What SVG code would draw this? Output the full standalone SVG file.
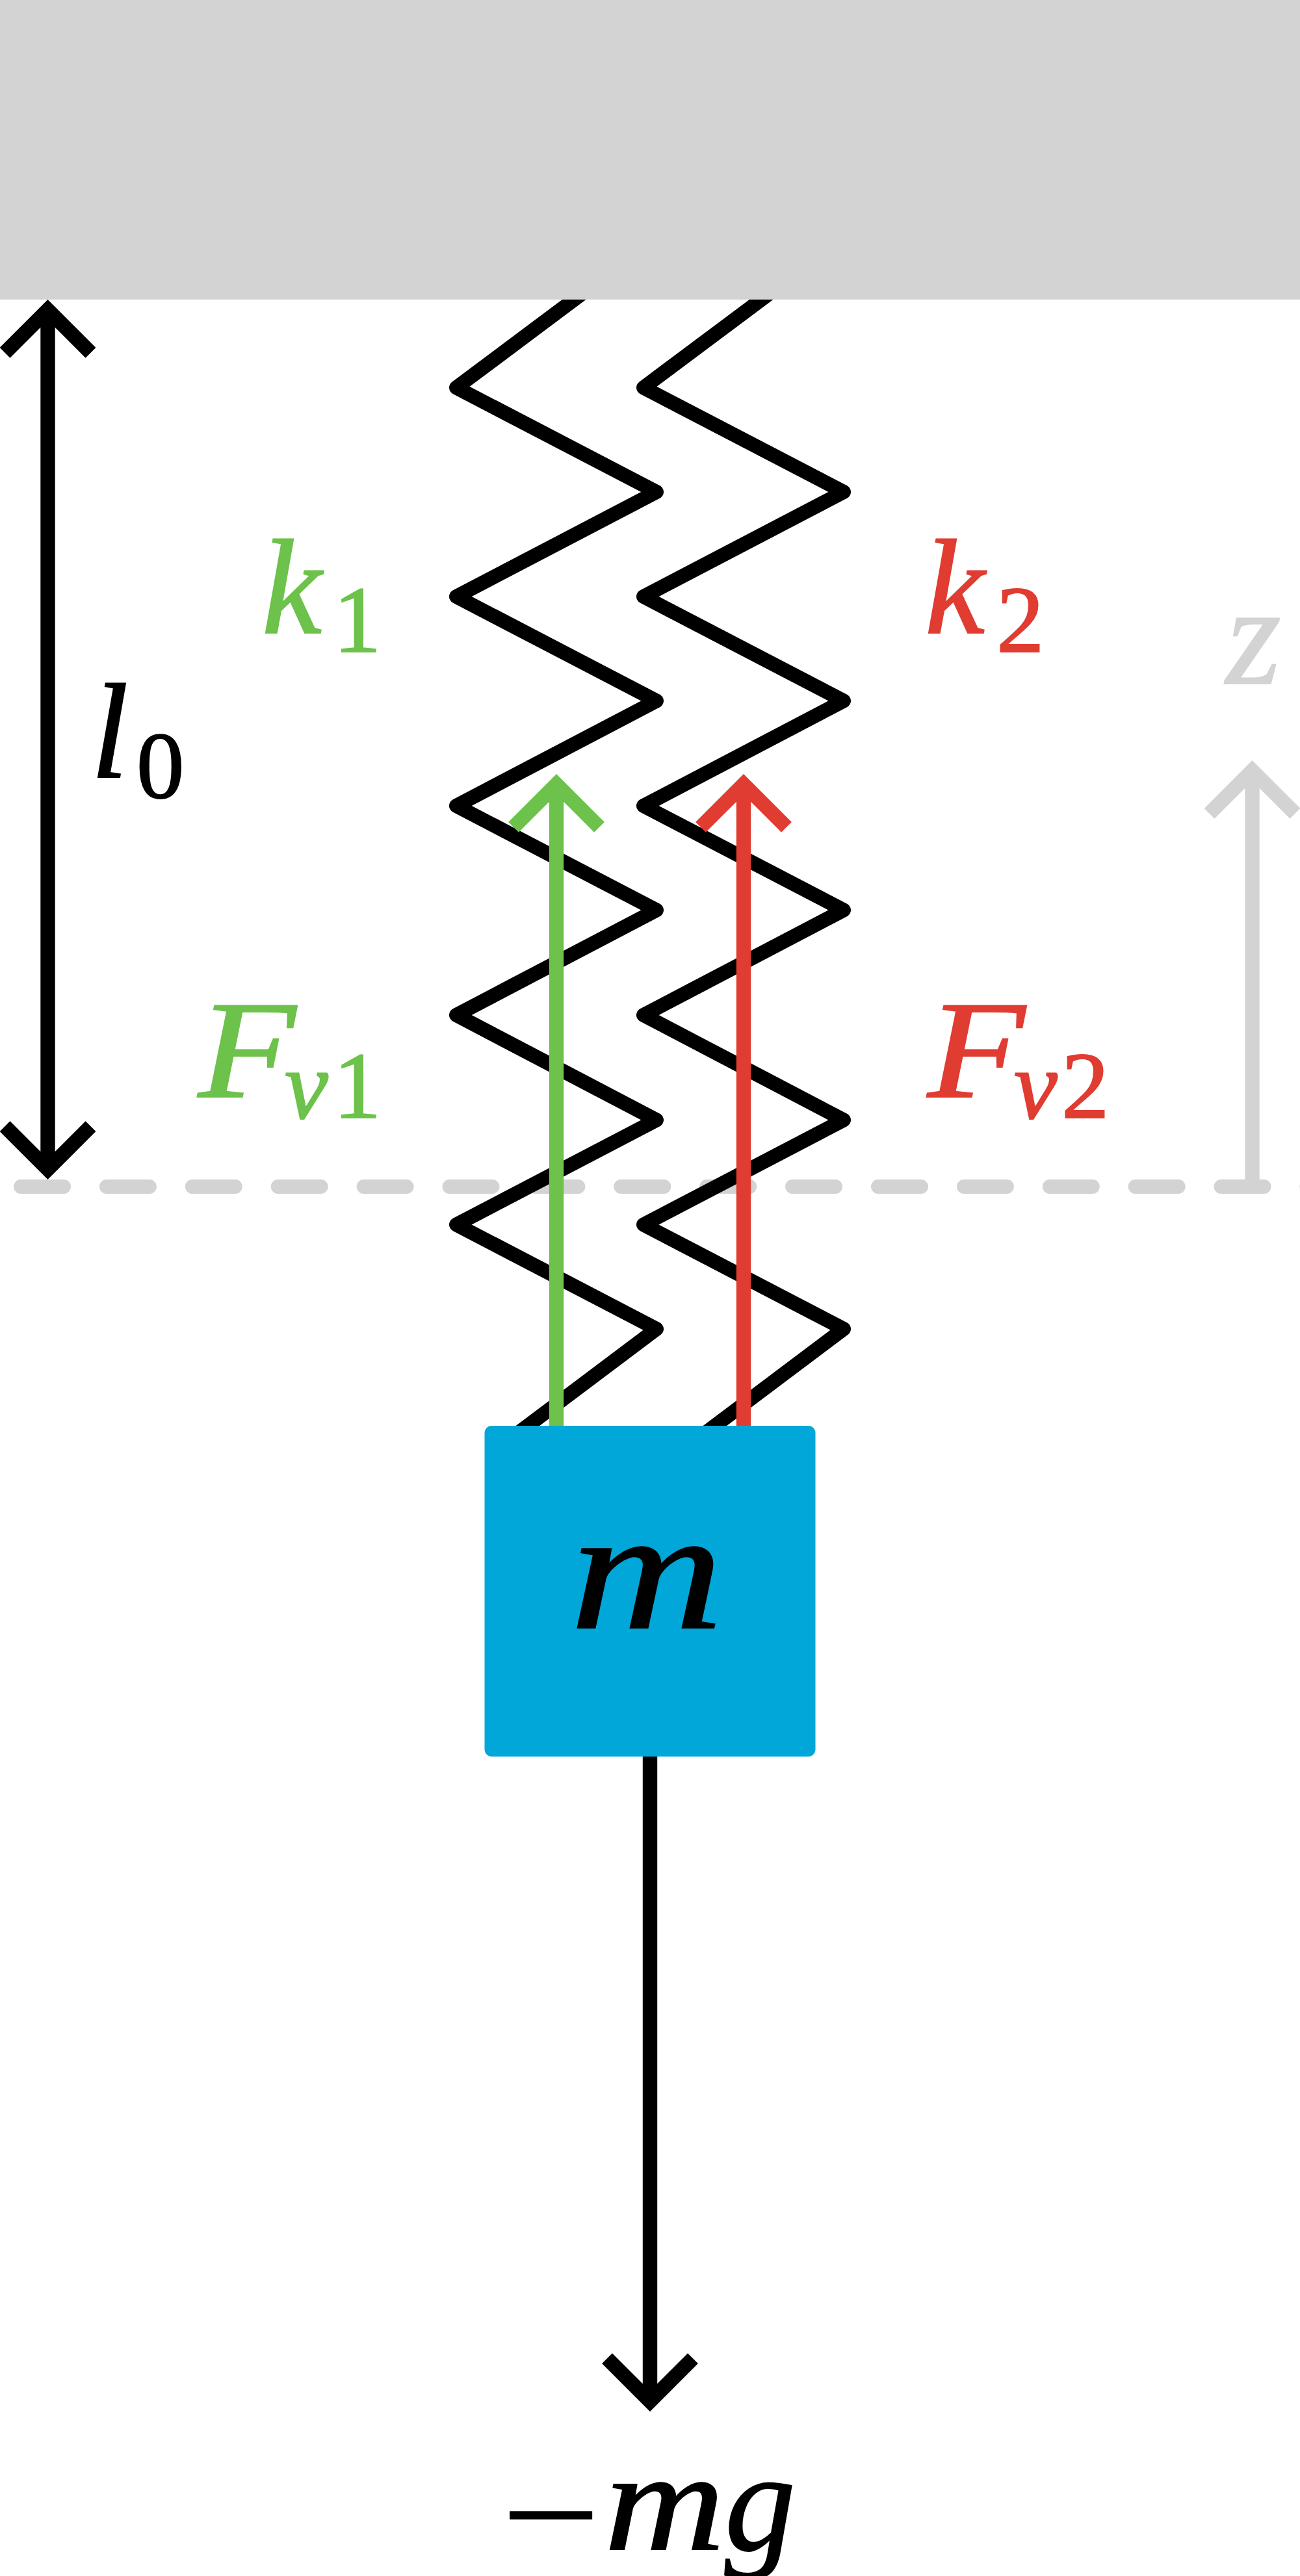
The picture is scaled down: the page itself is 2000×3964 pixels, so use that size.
<svg xmlns="http://www.w3.org/2000/svg" width="2000" height="3964" viewBox="0 0 2000 3964">
<style>
.conn{fill:none;stroke-width:22.4;stroke-linejoin:miter;stroke-linecap:butt}
.k{stroke:#000}.g{stroke:#6cc24a}.r{stroke:#e03c31}.l{stroke:#d3d3d3}
.spring{fill:none;stroke:#000;stroke-width:22;stroke-linejoin:round;stroke-linecap:round}
text{font-family:"Liberation Serif",serif;font-style:italic;font-size:218px;stroke-width:2}
.tk{fill:#000;stroke:#000}.tg{fill:#6cc24a;stroke:#6cc24a}.tr{fill:#e03c31;stroke:#e03c31}.tl{fill:#d3d3d3;stroke:#d3d3d3}
.asc{font-size:207px}
.cap{font-size:214px}
.sub{font-style:normal;font-size:147px}
.subi{font-style:italic;font-size:150px}
</style>
<rect width="2000" height="3964" fill="#fff"/>
<g id="connectors">
<line id="datum" x1="32" y1="1826" x2="2012" y2="1826" fill="none" stroke="#d3d3d3" stroke-width="22" stroke-linecap="round" stroke-dasharray="66 65.9"/>
<path id="axis-z" class="conn l" d="M1926.5 1826V1185.8M1860.5 1251.8L1926.5 1185.8L1992.5 1251.8"/>
<path id="spring-1" class="spring" d="M910 441L702 596.5L1010 757L702 918L1010 1078.5L702 1240L1010 1400.5L702 1562L1010 1723.5L702 1884.5L1010 2045L780 2218"/>
<path id="spring-2" class="spring" d="M1198 441L990 596.5L1298 757L990 918L1298 1078.5L990 1240L1298 1400.5L990 1562L1298 1723.5L990 1884.5L1298 2045L1068 2218"/>
<path id="arrow-l0" class="conn k" d="M73.5 476.8V1799.2M7.5 542.8L73.5 476.8L139.5 542.8M7.5 1733.2L73.5 1799.2L139.5 1733.2"/>
<path id="arrow-fv1" class="conn g" d="M856 2194V1206.8M790 1272.8L856 1206.8L922 1272.8"/>
<path id="arrow-fv2" class="conn r" d="M1144 2194V1206.8M1078 1272.8L1144 1206.8L1210 1272.8"/>
<path id="arrow-mg" class="conn k" d="M1000 2703V3695.2M934 3629.2L1000 3695.2L1066 3629.2"/>
</g>
<g id="ceiling"><rect x="0" y="0" width="2000" height="461" fill="#d3d3d3"/></g>
<g id="mass">
<rect x="745.5" y="2194" width="509" height="509" rx="11" fill="#00a7d8"/>
<text class="tk" x="877" y="2505" style="font-size:265px" textLength="236" lengthAdjust="spacingAndGlyphs">m</text>
</g>
<g id="label-l0"><text class="tk" y="1196"><tspan class="asc" x="140">l</tspan><tspan class="sub" x="210" y="1228">0</tspan></text></g>
<g id="label-k1"><text class="tg" y="974"><tspan class="asc" x="403">k</tspan><tspan class="sub" x="513" y="1003">1</tspan></text></g>
<g id="label-k2"><text class="tr" y="974"><tspan class="asc" x="1423">k</tspan><tspan class="sub" x="1533" y="1003">2</tspan></text></g>
<g id="label-z"><text class="tl" x="1886" y="1052">z</text></g>
<g id="label-fv1"><text class="tg" y="1688"><tspan class="cap" x="305" textLength="150" lengthAdjust="spacingAndGlyphs">F</tspan><tspan class="subi" x="438" y="1721">v</tspan><tspan class="sub" x="513" y="1720">1</tspan></text></g>
<g id="label-fv2"><text class="tr" y="1688"><tspan class="cap" x="1427" textLength="150" lengthAdjust="spacingAndGlyphs">F</tspan><tspan class="subi" x="1560" y="1721">v</tspan><tspan class="sub" x="1633" y="1720">2</tspan></text></g>
<g id="label-mg"><text class="tk" y="3923"><tspan x="772" y="3943" style="font-style:normal" textLength="151" lengthAdjust="spacingAndGlyphs">−</tspan><tspan x="930" y="3923" textLength="185" lengthAdjust="spacingAndGlyphs">m</tspan><tspan x="1115" y="3923">g</tspan></text></g>
</svg>
